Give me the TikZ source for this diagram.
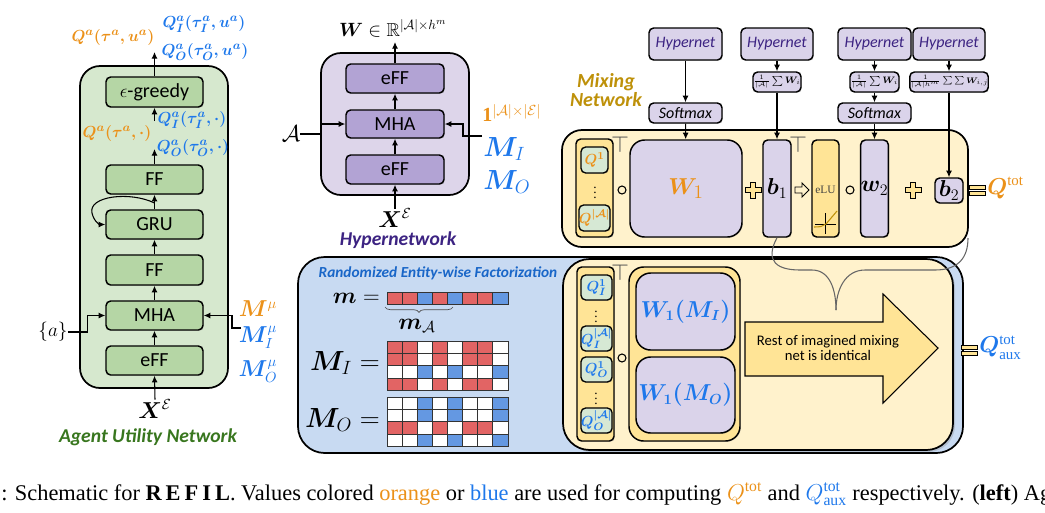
\documentclass[tikz,border=0pt]{standalone}
\usepackage{amsmath,amssymb}
\usepackage{bm}
\usepackage{fontspec}
\setmainfont{Liberation Serif}
\setsansfont{Carlito}
\usetikzlibrary{arrows.meta,shadows,decorations.pathreplacing}
\definecolor{gOut}{RGB}{214,232,206}
\definecolor{gBox}{RGB}{181,214,165}
\definecolor{pOut}{RGB}{221,213,234}
\definecolor{pBox}{RGB}{178,163,212}
\definecolor{lav}{RGB}{218,211,234}
\definecolor{yOut}{RGB}{255,242,204}
\definecolor{yIn}{RGB}{255,228,150}
\definecolor{bOut}{RGB}{200,218,242}
\definecolor{qG}{RGB}{214,232,212}
\definecolor{cRed}{RGB}{226,100,100}
\definecolor{cBlue}{RGB}{100,152,226}
\definecolor{tOr}{RGB}{235,145,25}
\definecolor{tBl}{RGB}{30,120,235}
\definecolor{tGr}{RGB}{56,118,30}
\definecolor{tPu}{RGB}{60,35,130}
\definecolor{tGo}{RGB}{190,145,10}
\newcommand\fsz[1]{\fontsize{#1}{#1}\selectfont}
\begin{document}
\begin{tikzpicture}[x=0.75pt,y=-0.75pt,
  rect/.style n args={4}{at={({(#1+#3)/2},{(#2+#4)/2})},
    minimum width={(#3-#1)*0.75pt}, minimum height={(#4-#2)*0.75pt}},
  panel/.style={draw, line width=1.3pt, rounded corners=15pt, inner sep=0pt},
  sbox/.style={draw, inner sep=0pt, line width=1.1pt, rounded corners=3.5pt,
    drop shadow={opacity=0.25, shadow xshift=0.7pt, shadow yshift=-0.7pt}},
  gbox/.style={sbox, fill=gBox, font=\sffamily\fsz{15}},
  pbox/.style={sbox, fill=pBox, font=\sffamily\fsz{15}},
  hbox/.style={sbox, fill=lav, font=\sffamily\itshape\fsz{12}, text=tPu},
  smbox/.style={sbox, fill=lav, font=\sffamily\itshape\fsz{12}},
  frmbox/.style={sbox, fill=lav, font=\fsz{7.5}},
  qbox/.style={sbox, fill=qG, line width=1pt, font=\boldmath\fsz{11}},
  vbox/.style={sbox, fill=lav},
  arr/.style={-{Latex[length=5pt,width=4.5pt]}, line width=0.8pt},
  lab/.style={inner sep=0pt, font=\fsz{14}},
  qlab/.style={inner sep=0pt, font=\boldmath\fsz{12.5}},
  dots/.style={inner sep=0pt, font=\fsz{10}},
  circ/.style={draw, circle, fill=yOut, line width=0.8pt, minimum size=6pt, inner sep=0pt},
  plussign/.pic={\draw[fill=yIn, line width=0.7pt] (-2.5,-8) -- (2.5,-8) -- (2.5,-2.5) -- (8,-2.5) -- (8,2.5) -- (2.5,2.5) -- (2.5,8) -- (-2.5,8) -- (-2.5,2.5) -- (-8,2.5) -- (-8,-2.5) -- (-2.5,-2.5) -- cycle;},
  eqsign/.pic={\draw[fill=yIn, line width=0.7pt] (-8,-5) rectangle (8,-1) (-8,1) rectangle (8,5);},
  blockarr/.pic={\draw[fill=yOut, line width=0.7pt] (-7,-3) -- (0,-3) -- (0,-7) -- (7,0) -- (0,7) -- (0,3) -- (-7,3) -- cycle;}
]
\useasboundingbox (0,0) rectangle (1045,512);

% ================= Agent utility network =================
\node[panel, fill=gOut, rect={80}{66}{228}{388}] (agent) {};
\node[gbox, rect={106}{77}{203}{107}] (greedy) {$\epsilon$-greedy};
\node[gbox, rect={106}{165}{203}{194}] (ff2) {FF};
\node[gbox, rect={106}{210}{203}{239}] (gru) {GRU};
\node[gbox, rect={106}{255}{203}{285}] (ff1) {FF};
\node[gbox, rect={106}{301}{203}{330}] (mha) {MHA};
\node[gbox, rect={106}{346}{203}{375}] (eff) {eFF};
\node[lab, font=\fsz{16}] (xe) at (155,409) {$\bm{X}^{\mathcal{E}}$};
\node[inner sep=0pt, text=tGr, font=\sffamily\bfseries\itshape\fsz{14.7}] (agtitle) at (148,437) {Agent Utility Network};
\draw[arr] (xe.north) -- (eff.south);
\draw[arr] (eff) -- (mha);
\draw[arr] (mha) -- (ff1);
\draw[arr] (ff1) -- (gru);
\draw[arr] (gru) -- (ff2);
\coordinate (c1) at (154.5,149);
\coordinate (c2) at (154.5,121);
\coordinate (c3) at (154.5,52);
\draw[arr] (ff2) -- (c1);
\draw[arr] (c2) -- (greedy);
\draw[arr] (greedy) -- (c3);
\coordinate (loopS) at (154.5,203);
\draw[arr] (loopS) .. controls (130,191) and (88,196) .. (92,213) .. controls (94,222) and (100,224.5) .. (gru.west);
\node[qlab, text=tOr] (qa) at (113,37) {$Q^a(\tau^a,u^a)$};
\node[qlab, text=tBl] (qia) at (204,24) {$Q^a_I(\tau^a_I,u^a)$};
\node[qlab, text=tBl] (qoa) at (205,52) {$Q^a_O(\tau^a_O,u^a)$};
\node[qlab, text=tOr] (qad) at (117,133) {$Q^a(\tau^a,\cdot)$};
\node[qlab, text=tBl] (qiad) at (192,120) {$Q^a_I(\tau^a_I,\cdot)$};
\node[qlab, text=tBl] (qoad) at (193,148) {$Q^a_O(\tau^a_O,\cdot)$};
\node[lab, font=\fsz{15}] (aset) at (53,332) {$\{a\}$};
\draw[arr] (aset.east) -- ++(20,0) |- (mha.west);
\node[lab, text=tOr, font=\fsz{16}] (mmu) at (258,309) {$\bm{M}^{\mu}$};
\node[lab, text=tBl, font=\fsz{16}] (mimu) at (258,337) {$\bm{M}^{\mu}_I$};
\node[lab, text=tBl, font=\fsz{16}] (momu) at (258,371) {$\bm{M}^{\mu}_O$};
\coordinate (mmuIn) at (241,328);
\draw[arr] (mmuIn) -- ++(-9,0) |- (mha.east);

% ================= Hypernetwork =================
\node[panel, fill=pOut, rect={321}{53}{469}{195}] (hyper) {};
\node[pbox, rect={346}{64}{444}{93}] (heff2) {eFF};
\node[pbox, rect={346}{110}{444}{138}] (hmha) {MHA};
\node[pbox, rect={346}{155}{444}{184}] (heff1) {eFF};
\node[lab, font=\fsz{16}] (hx) at (395,218) {$\bm{X}^{\mathcal{E}}$};
\node[lab, font=\fsz{14}] (hw) at (393,28) {$\bm{W}\in\mathbb{R}^{|\mathcal{A}|\times h^m}$};
\node[inner sep=0pt, text=tPu, font=\sffamily\bfseries\itshape\fsz{14.7}] (hytitle) at (398,240) {Hypernetwork};
\draw[arr] (hx.north) -- (heff1.south);
\draw[arr] (heff1) -- (hmha);
\draw[arr] (hmha) -- (heff2);
\coordinate (hwIn) at (395,42);
\draw[arr] (heff2.north) -- (hwIn);
\node[lab, font=\fsz{18}] (hA) at (291,134) {$\mathcal{A}$};
\draw[arr] (hA.east) -- ++(20,0) |- (hmha.west);
\node[lab, text=tOr, font=\fsz{15}, anchor=west] (one) at (482,113) {$\mathbf{1}^{|\mathcal{A}|\times|\mathcal{E}|}$};
\node[lab, text=tBl, font=\fsz{20}, anchor=west] (hmi) at (483,149) {$\bm{M}_I$};
\node[lab, text=tBl, font=\fsz{20}, anchor=west] (hmo) at (483,182) {$\bm{M}_O$};
\coordinate (hmIn) at (482,136);
\draw[arr] (hmIn) -- ++(-19,0) |- (hmha.east);

% ================= Mixing network (top) =================
\node[inner sep=0pt, text=tGo, font=\sffamily\bfseries\itshape\fsz{15}, align=center] (mixtitle) at (606,90) {Mixing\\[-1pt]Network};
\node[hbox, rect={649}{28}{722}{60}] (hn1) {Hypernet};
\node[hbox, rect={741}{28}{813}{60}] (hn2) {Hypernet};
\node[hbox, rect={838}{28}{911}{60}] (hn3) {Hypernet};
\node[hbox, rect={913}{28}{985}{60}] (hn4) {Hypernet};
\node[smbox, rect={649}{103}{722}{123}] (sm1) {Softmax};
\node[smbox, rect={838}{103}{911}{123}] (sm2) {Softmax};
\node[frmbox, rect={753}{72}{801}{92}] (f2) {$\frac{1}{|\mathcal{A}|}\sum\bm{W}_i$};
\node[frmbox, rect={850}{72}{899}{92}] (f3) {$\frac{1}{|\mathcal{A}|}\sum\bm{W}_i$};
\node[frmbox, rect={917}{72}{981}{92}, font=\fsz{6.3}] (f4) {$\frac{1}{|\mathcal{A}|h^m}\sum\sum\bm{W}_{i,j}$};

\node[panel, fill=yOut, rect={562}{130}{968}{247}] (mix) {};
\node[sbox, fill=yIn, rect={576}{139}{613}{237}] (qcol) {};
\node[qbox, rect={581}{147}{608}{173}, text=tOr] (q1) {$Q^1$};
\node[qbox, rect={581}{205}{608}{231}, text=tOr] (qA) {$Q^{|\mathcal{A}|}$};
\node[dots] (qdots) at (595,189) {$\vdots$};
\node[inner sep=0pt, text=black!70, font=\fsz{16}] (t1) at (620,144) {$\top$};
\node[circ] (o1) at (622,190) {};
\node[vbox, rect={630}{140}{742}{237}, rounded corners=11pt, text=tOr, font=\fsz{19}] (W1) {$\bm{W}_1$};
\pic at (753,190) {plussign};
\node[vbox, rect={763}{140}{791}{237}, font=\fsz{17}] (b1) {$\bm{b}_1$};
\node[inner sep=0pt, text=black!70, font=\fsz{16}] (t2) at (798,144) {$\top$};
\pic at (802,190) {blockarr};
\node[sbox, fill=yIn, rect={812}{140}{839}{237}] (elu) {};
\node[inner sep=0pt, font=\rmfamily\fsz{8.5}, text=black!75] (elut) at (825.5,190) {eLU};
\draw[line width=0.6pt] (815,224) -- (836,224) (825.5,213) -- (825.5,234);
\draw[tGo, line width=0.8pt] (814,227) .. controls (820,227) and (823,226.5) .. (826,224) -- (837,211);
\node[circ] (o2) at (850,190) {};
\node[vbox, rect={861}{140}{888}{237}, font=\fsz{17}] (w2) {$\bm{w}_2$};
\pic at (913,190) {plussign};
\node[vbox, rect={935}{178}{963}{203}, font=\fsz{17}] (b2) {$\bm{b}_2$};
\pic at (977,190) {eqsign};
\node[inner sep=0pt, text=tOr, font=\boldmath\fsz{16}, anchor=west] (qtot) at (987,188) {$Q^{\text{tot}}$};

\draw[arr] (hn1) -- (sm1);
\draw[arr] (sm1) -- (W1);
\draw[arr] (hn2) -- (f2);
\draw[arr] (f2) -- (b1);
\draw[arr] (hn3) -- (f3);
\draw[arr] (f3) -- (sm2);
\draw[arr] (sm2) -- (w2);
\draw[arr] (hn4) -- (f4);
\draw[arr] (f4) -- (b2);

% ================= Randomized entity-wise factorization =================
\node[panel, fill=bOut, rounded corners=20pt, rect={298}{257}{963}{453}] (ref) {};
\node[panel, fill=yOut, rounded corners=20pt, rect={563}{259}{953}{450},
  drop shadow={opacity=0.3, shadow xshift=1.5pt, shadow yshift=-1.5pt}] (aux) {};
\node[inner sep=0pt, text=tBl!85!black, font=\sffamily\bfseries\itshape\fsz{11.5}] (reftitle) at (438,273) {Randomized Entity-wise Factorization};

\node[inner sep=0pt, font=\fsz{19}, anchor=east] (mlab) at (380,298) {$\bm{m}=$};
\foreach \c [count=\i from 0] in {cRed,cRed,cBlue,cRed,cBlue,cRed,cRed,cBlue}
  \draw[fill=\c, line width=0.6pt, draw=black!80] (387+\i*15.125,292) rectangle ++(15.125,12.3);
\coordinate (brL) at (385,307);
\coordinate (brR) at (453,307);
\draw[decorate, decoration={brace, mirror, amplitude=4pt}, line width=0.5pt, black!70] (brL) -- (brR);
\node[inner sep=0pt, font=\fsz{17}] (mA) at (417,326) {$\bm{m}_{\mathcal{A}}$};

\node[inner sep=0pt, font=\fsz{21}, anchor=east] (milab) at (380,363) {$\bm{M}_I=$};
\foreach \row [count=\r from 0] in {{cRed,cRed,white,cRed,white,cRed,cRed,white},{cRed,cRed,white,cRed,white,cRed,cRed,white},{white,white,cBlue,white,cBlue,white,white,cBlue},{cRed,cRed,white,cRed,white,cRed,cRed,white}}
  \foreach \c [count=\i from 0] in \row
    \draw[fill=\c, line width=0.6pt, draw=black!80] (387+\i*15.125,341+\r*12.3) rectangle ++(15.125,12.3);
\node[inner sep=0pt, font=\fsz{21}, anchor=east] (molab) at (380,420) {$\bm{M}_O=$};
\foreach \row [count=\r from 0] in {{white,white,cBlue,white,cBlue,white,white,cBlue},{white,white,cBlue,white,cBlue,white,white,cBlue},{cRed,cRed,white,cRed,white,cRed,cRed,white},{white,white,cBlue,white,cBlue,white,white,cBlue}}
  \foreach \c [count=\i from 0] in \row
    \draw[fill=\c, line width=0.6pt, draw=black!80] (387+\i*15.125,397+\r*12.3) rectangle ++(15.125,12.3);

\node[sbox, fill=yIn, rect={577}{267}{614}{441}] (qcol2) {};
\node[qbox, rect={581}{275}{612}{300}, text=tBl] (qi1) {$Q^1_I$};
\node[qbox, rect={581}{326}{612}{351}, text=tBl] (qiA) {$Q^{|\mathcal{A}|}_I$};
\node[qbox, rect={581}{357}{612}{382}, text=tBl] (qo1) {$Q^1_O$};
\node[qbox, rect={581}{408}{612}{433}, text=tBl] (qoA) {$Q^{|\mathcal{A}|}_O$};
\node[dots] (qdots2) at (596,313) {$\vdots$};
\node[dots] (qdots3) at (596,395) {$\vdots$};
\node[inner sep=0pt, text=black!70, font=\fsz{16}] (t3) at (620,272) {$\top$};
\node[circ] (o3) at (622,358) {};
\node[sbox, fill=yIn, rounded corners=11pt, rect={629}{267}{740}{441}] (wgrp) {};
\node[vbox, rounded corners=11pt, rect={636}{273}{735}{350}, text=tBl, font=\boldmath\fsz{16}] (wmi) {$\bm{W}_1(M_I)$};
\node[vbox, rounded corners=11pt, rect={636}{357}{735}{433}, text=tBl, font=\boldmath\fsz{16}] (wmo) {$\bm{W}_1(M_O)$};
\draw[fill=yIn, line width=0.8pt] (745,322) -- (883,322) -- (883,294) -- (938,348) -- (883,403) -- (883,376) -- (745,376) -- cycle;
\node[inner sep=0pt, font=\sffamily\fsz{11}, align=center] (rest) at (828,348) {Rest of imagined mixing\\net is identical};
\pic at (969,350) {eqsign};
\node[inner sep=0pt, text=tBl, font=\boldmath\fsz{16}, anchor=west] (qaux) at (979,348) {$Q^{\text{tot}}_{\text{aux}}$};

% brace linking the mixing net to the imagined one
\draw[black!60, line width=0.8pt] (b1.south) .. controls (764,262) and (778,270) .. (800,270) -- (812,270) .. controls (830,270) and (836,290) .. (836,310);
\draw[black!60, line width=0.8pt] (836,310) .. controls (836,290) and (845,270) .. (865,270) -- (935,270) .. controls (958,270) and (968,258) .. (968,238);

% ================= Caption =================
\node[inner sep=0pt, anchor=base west, font=\rmfamily\fsz{16.8}] (cap) at (1,500) {: Schematic for \textbf{R\hspace{3pt}E\hspace{3pt}F\hspace{3pt}I\hspace{3pt}L}. Values colored \textcolor{tOr}{orange} or \textcolor{tBl}{blue} are used for computing \textcolor{tOr}{$Q^{\text{tot}}$} and \textcolor{tBl}{$Q^{\text{tot}}_{\text{aux}}$} respectively. (\textbf{left}) Agent};
\end{tikzpicture}
\end{document}
